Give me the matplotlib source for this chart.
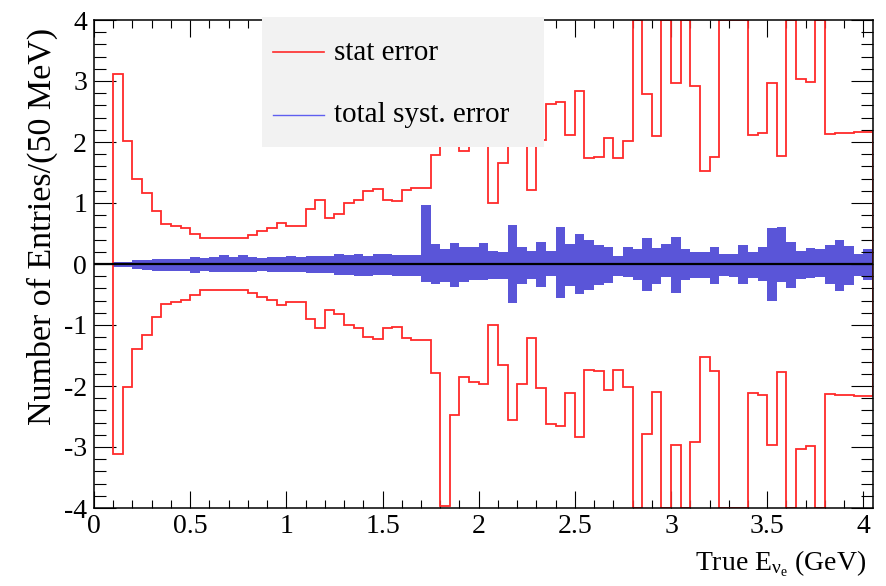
import numpy as np
import matplotlib
matplotlib.use("Agg")
import matplotlib.pyplot as plt
from matplotlib.ticker import MultipleLocator, FormatStrFormatter
from matplotlib.patches import Rectangle
from matplotlib.lines import Line2D

plt.rcParams["font.family"] = ["Liberation Serif", "DejaVu Serif"]
plt.rcParams["mathtext.fontset"] = "custom"
plt.rcParams["mathtext.rm"] = "Liberation Serif"
plt.rcParams["mathtext.it"] = "Liberation Serif:italic"
plt.rcParams["axes.unicode_minus"] = False

# 50 MeV bins starting at 0 GeV
bin_width = 0.05

# statistical error per bin (symmetric); bins above 4 run off the frame
stat_err = [
    0.0, 0.0,
    3.11, 2.02, 1.40, 1.17, 0.87, 0.66, 0.62, 0.59, 0.50, 0.42,
    0.42, 0.42, 0.43, 0.43, 0.48, 0.54, 0.59, 0.68, 0.62, 0.63,
    0.90, 1.05, 0.75, 0.82, 1.00, 1.05, 1.19, 1.23, 1.05, 1.03,
    1.21, 1.24, 1.25, 1.78, 3.97, 2.48, 1.86, 1.93, 1.97, 1.00,
    1.65, 2.56, 1.97, 1.21, 2.03, 2.62, 2.66, 2.11, 2.83, 1.73,
    1.75, 2.07, 1.73, 2.02, 4.6, 2.78, 2.10, 4.6, 2.96, 4.6,
    2.92, 1.52, 1.75, 4.6, 4.6, 4.6, 2.11, 2.14, 2.96, 1.77,
    4.6, 3.03, 2.98, 4.6, 2.13, 2.15, 2.15, 2.16, 2.17,
]

# total systematic error, upward and downward
syst_up = [
    0.0, 0.0,
    0.04, 0.04, 0.07, 0.07, 0.09, 0.09, 0.09, 0.09, 0.12, 0.10,
    0.12, 0.14, 0.12, 0.14, 0.12, 0.10, 0.11, 0.11, 0.13, 0.11,
    0.13, 0.13, 0.13, 0.17, 0.15, 0.17, 0.13, 0.17, 0.17, 0.15,
    0.15, 0.15, 0.97, 0.32, 0.25, 0.35, 0.28, 0.28, 0.35, 0.21,
    0.20, 0.64, 0.28, 0.22, 0.36, 0.22, 0.61, 0.33, 0.49, 0.39,
    0.31, 0.28, 0.13, 0.28, 0.24, 0.42, 0.26, 0.33, 0.44, 0.24,
    0.20, 0.20, 0.28, 0.17, 0.17, 0.31, 0.20, 0.28, 0.59, 0.61,
    0.36, 0.22, 0.26, 0.24, 0.31, 0.39, 0.30, 0.16, 0.24,
]
syst_down = [
    0.0, 0.0,
    0.055, 0.055, 0.08, 0.10, 0.11, 0.11, 0.11, 0.11, 0.14, 0.11,
    0.13, 0.13, 0.13, 0.13, 0.13, 0.12, 0.13, 0.13, 0.125, 0.125,
    0.15, 0.15, 0.15, 0.18, 0.18, 0.20, 0.20, 0.18, 0.18, 0.20,
    0.20, 0.20, 0.29, 0.32, 0.29, 0.38, 0.30, 0.26, 0.26, 0.25,
    0.25, 0.64, 0.33, 0.25, 0.37, 0.20, 0.56, 0.36, 0.49, 0.43,
    0.34, 0.31, 0.19, 0.22, 0.27, 0.45, 0.33, 0.22, 0.48, 0.26,
    0.23, 0.23, 0.32, 0.19, 0.21, 0.32, 0.23, 0.28, 0.60, 0.30,
    0.40, 0.25, 0.23, 0.22, 0.33, 0.45, 0.34, 0.20, 0.26,
]

x_ticks = [0, 0.5, 1, 1.5, 2, 2.5, 3, 3.5, 4]
y_ticks = [-4, -3, -2, -1, 0, 1, 2, 3, 4]
y_range = (-4, 4)

RED = "#ff2a2a"
BLUE = "#5a55d8"

stat = np.asarray(stat_err)
edges = np.arange(len(stat) + 1) * bin_width

fig = plt.figure(figsize=(8.86, 5.86), dpi=100)
ax = fig.add_axes([94 / 886, 1 - 508 / 586, 779 / 886, 488 / 586])

# systematic band
ax.stairs(np.asarray(syst_up), edges, baseline=-np.asarray(syst_down),
          fill=True, color=BLUE, lw=0, zorder=1)

# statistical error envelope, clipped to the frame like the original histogram
lim = y_range[1]
ax.stairs(np.minimum(stat, lim), edges, baseline=0, color=RED, lw=1.3, zorder=2)
ax.stairs(-np.minimum(stat, lim), edges, baseline=0, color=RED, lw=1.3, zorder=2)

# central value
ax.axhline(0, color="black", lw=1.6, zorder=3)

ax.set_xlim(0, edges[-1])
ax.set_ylim(*y_range)
ax.set_xticks(x_ticks)
ax.set_yticks(y_ticks)
ax.xaxis.set_major_formatter(FormatStrFormatter("%g"))
ax.yaxis.set_major_formatter(FormatStrFormatter("%g"))
ax.xaxis.set_minor_locator(MultipleLocator(0.1))
ax.yaxis.set_minor_locator(MultipleLocator(0.2))

ax.tick_params(axis="both", which="both", direction="in", top=True, right=True,
               width=0.8, labelsize=20)
ax.tick_params(axis="x", which="major", length=12, pad=4)
ax.tick_params(axis="x", which="minor", length=5.8)
ax.tick_params(axis="y", which="major", length=15.8, pad=5)
ax.tick_params(axis="y", which="minor", length=8.6)
for s in ax.spines.values():
    s.set_linewidth(1.1)

ax.set_xlabel(r"True E$_{\mathrm{ν}_{\mathrm{e}}}$ (GeV)", fontsize=20, loc="right")
ax.xaxis.set_label_coords((866 - 94) / 779, (508 - 548) / 488)
ax.xaxis.label.set_va("top")
ax.set_ylabel("Number of Entries/(50 MeV)", fontsize=24.5, loc="top")
ax.yaxis.set_label_coords((58 - 94) / 779, (508 - 28) / 488)

# legend panel
def axx(px):
    return (px - 94) / 779

def axy(py):
    return (508 - py) / 488

ax.add_patch(Rectangle((axx(262), axy(147)), axx(544) - axx(262), axy(17) - axy(147),
                       transform=ax.transAxes, facecolor="#f2f2f2", edgecolor="none",
                       clip_on=False, zorder=5))
ax.add_line(Line2D([axx(273), axx(324)], [axy(51.5), axy(51.5)], transform=ax.transAxes,
                   color=RED, lw=1.2, clip_on=False, zorder=6))
ax.add_line(Line2D([axx(273), axx(324)], [axy(114.5), axy(114.5)], transform=ax.transAxes,
                   color="#5f5ff0", lw=1.0, clip_on=False, zorder=6))
ax.text(axx(334), axy(60.5), "stat error", transform=ax.transAxes, fontsize=21,
        va="baseline", ha="left", zorder=6)
ax.text(axx(334), axy(122.5), "total syst. error", transform=ax.transAxes, fontsize=21,
        va="baseline", ha="left", zorder=6)

fig.savefig("out.png", dpi=100)
